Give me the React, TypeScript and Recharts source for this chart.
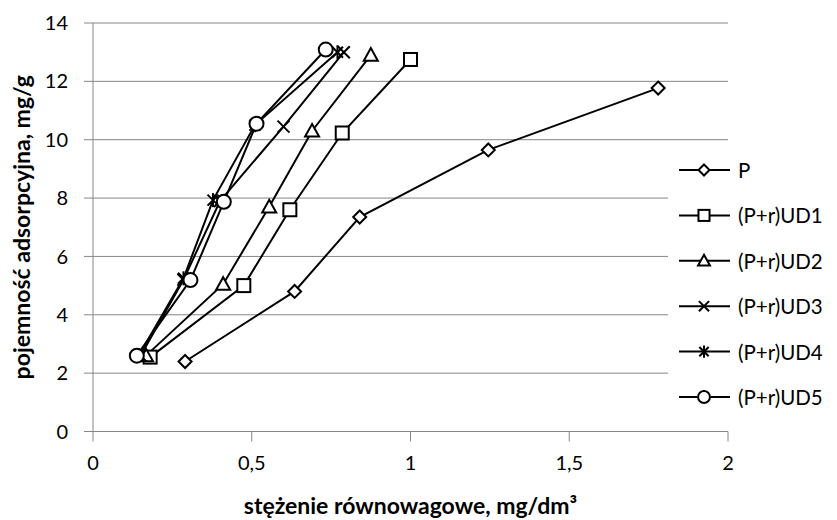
import React from "react";
import {
  CartesianGrid,
  Label,
  Line,
  LineChart,
  XAxis,
  YAxis,
} from "recharts";

const xTicks = [0, 0.5, 1, 1.5, 2];
const yTicks = [0, 2, 4, 6, 8, 10, 12, 14];

// stężenie (x) / pojemność (y) per sample
const pX = [0.29, 0.635, 0.84, 1.245, 1.78];
const pY = [2.4, 4.8, 7.35, 9.65, 11.77];
const ud1X = [0.18, 0.475, 0.62, 0.785, 1.0];
const ud1Y = [2.55, 5.0, 7.6, 10.23, 12.75];
const ud2X = [0.167, 0.41, 0.555, 0.69, 0.875];
const ud2Y = [2.6, 5.05, 7.7, 10.3, 12.9];
const ud3X = [0.15, 0.285, 0.4, 0.6, 0.79];
const ud3Y = [2.6, 5.2, 7.9, 10.45, 13.0];
const ud4X = [0.145, 0.285, 0.378, 0.51, 0.77];
const ud4Y = [2.62, 5.25, 7.93, 10.5, 13.0];
const ud5X = [0.138, 0.307, 0.412, 0.515, 0.733];
const ud5Y = [2.6, 5.19, 7.87, 10.55, 13.09];

type Shape = "diamond" | "square" | "triangle" | "x" | "star" | "circle";

const zip = (xs: number[], ys: number[]) => xs.map((x, i) => ({ x, y: ys[i] }));

const series: { name: string; shape: Shape; data: { x: number; y: number }[] }[] = [
  { name: "P", shape: "diamond", data: zip(pX, pY) },
  { name: "(P+r)UD1", shape: "square", data: zip(ud1X, ud1Y) },
  { name: "(P+r)UD2", shape: "triangle", data: zip(ud2X, ud2Y) },
  { name: "(P+r)UD3", shape: "x", data: zip(ud3X, ud3Y) },
  { name: "(P+r)UD4", shape: "star", data: zip(ud4X, ud4Y) },
  { name: "(P+r)UD5", shape: "circle", data: zip(ud5X, ud5Y) },
];

const FONT = "Lato, 'Open Sans', sans-serif";
const GRID = "#868686";

function Marker({ shape, cx, cy, small }: { shape: Shape; cx: number; cy: number; small?: boolean }) {
  const k = small ? 0.85 : 1;
  const common = { stroke: "#000", strokeWidth: 2, fill: "#fff" };
  switch (shape) {
    case "diamond": {
      const s = 6.5 * k;
      return <polygon {...common} points={`${cx},${cy - s} ${cx + s},${cy} ${cx},${cy + s} ${cx - s},${cy}`} />;
    }
    case "square": {
      const s = 6.5 * k;
      return <rect {...common} x={cx - s} y={cy - s} width={s * 2} height={s * 2} />;
    }
    case "triangle": {
      const s = 7 * k;
      return <polygon {...common} points={`${cx},${cy - s} ${cx + s},${cy + s * 0.8} ${cx - s},${cy + s * 0.8}`} />;
    }
    case "x": {
      const s = 6 * k;
      return (
        <g stroke="#000" strokeWidth={2}>
          <line x1={cx - s} y1={cy - s} x2={cx + s} y2={cy + s} />
          <line x1={cx - s} y1={cy + s} x2={cx + s} y2={cy - s} />
        </g>
      );
    }
    case "star": {
      const s = 5.5 * k;
      return (
        <g stroke="#000" strokeWidth={2}>
          <line x1={cx - s} y1={cy - s} x2={cx + s} y2={cy + s} />
          <line x1={cx - s} y1={cy + s} x2={cx + s} y2={cy - s} />
          <line x1={cx} y1={cy - s - 1.5} x2={cx} y2={cy + s + 1.5} />
        </g>
      );
    }
    default:
      return <circle {...common} cx={cx} cy={cy} r={7 * k} />;
  }
}

const makeDot = (name: string, shape: Shape) => (p: any) =>
  <Marker key={`${name}-${p.index}`} shape={shape} cx={p.cx} cy={p.cy} />;

function ChartLegend() {
  return (
    <svg width={169} height={272} style={{ position: "absolute", left: 668, top: 148, background: "#fff" }}>
      {series.map((s, i) => {
        const y = 22 + i * 45.4;
        return (
          <g key={s.name}>
            <line x1={11} x2={62} y1={y} y2={y} stroke="#000" strokeWidth={2} />
            <Marker shape={s.shape} cx={36} cy={y} small />
            <text x={70} y={y} dominantBaseline="central" fontSize={20.5} fontFamily={FONT} fill="#000">
              {s.name}
            </text>
          </g>
        );
      })}
    </svg>
  );
}

export default function App() {
  return (
    <div style={{ position: "absolute", left: 0, top: 0, width: 837, height: 520, background: "#fff", fontFamily: FONT }}>
      <LineChart width={837} height={520} margin={{ top: 23, right: 109, left: 0, bottom: 0 }}>
        <CartesianGrid horizontal vertical={false} stroke={GRID} strokeWidth={1} />
        <XAxis
          dataKey="x"
          type="number"
          domain={[0, 2]}
          ticks={xTicks}
          height={88.5}
          stroke={GRID}
          tickSize={10}
          tickMargin={14}
          tick={{ fill: "#000", fontSize: 20, fontFamily: FONT }}
          tickFormatter={(v: number) => String(v).replace(".", ",")}
          allowDuplicatedCategory={false}
        >
          <Label
            value="stężenie równowagowe, mg/dm³"
            position="insideBottom"
            offset={6}
            style={{ fontSize: 23, fontWeight: 700, fontFamily: FONT, fill: "#000" }}
          />
        </XAxis>
        <YAxis
          type="number"
          domain={[0, 14]}
          ticks={yTicks}
          width={93}
          stroke={GRID}
          tickSize={9}
          tickMargin={16}
          tick={{ fill: "#000", fontSize: 20, fontFamily: FONT }}
        >
          <Label
            value="pojemność adsorpcyjna, mg/g"
            angle={-90}
            position="insideLeft"
            offset={22}
            style={{ fontSize: 23, fontWeight: 700, fontFamily: FONT, fill: "#000", textAnchor: "middle" }}
          />
        </YAxis>
        {series.map((s) => (
          <Line
            key={s.name}
            data={s.data}
            dataKey="y"
            name={s.name}
            type="linear"
            stroke="#000"
            strokeWidth={2}
            dot={makeDot(s.name, s.shape)}
            activeDot={false}
            isAnimationActive={false}
          />
        ))}
      </LineChart>
      <ChartLegend />
    </div>
  );
}
